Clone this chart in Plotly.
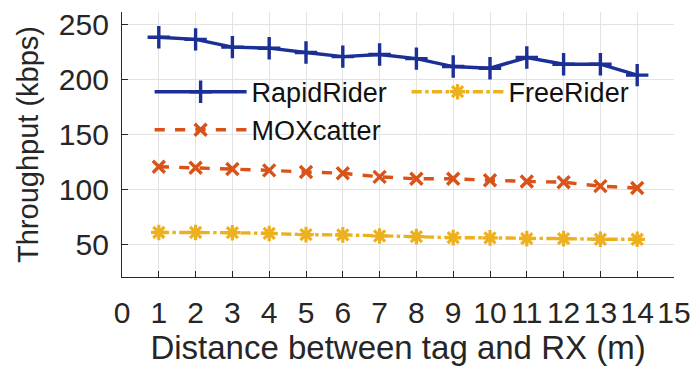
import plotly.graph_objects as go

# Distance (m) between tag and receiver
distance = list(range(1, 15))

# Measured throughput (kbps)
rapid_rider = [238.5, 236.5, 229.5, 228.5, 224.6, 220.8, 222.8, 219.0, 211.8, 210.3, 220.0, 213.9, 213.9, 204.0]
free_rider = [60.9, 60.9, 60.7, 60.0, 58.9, 58.7, 57.7, 57.1, 56.2, 56.0, 55.3, 55.3, 54.7, 54.7]
moxcatter = [120.7, 119.8, 118.6, 117.4, 115.9, 114.7, 111.5, 109.7, 109.7, 108.4, 107.3, 106.6, 103.0, 101.3]

x_ticks = list(range(0, 16))
y_ticks = [50, 100, 150, 200, 250]

BLUE = "#1b2f95"
ORANGE = "#d95319"
YELLOW = "#edb120"
AXIS = "#262626"
GRID = "#e3e3e3"
FONT = "Liberation Sans"

fig = go.Figure()

fig.add_trace(go.Scatter(
    x=distance, y=rapid_rider, name="RapidRider", mode="lines+markers",
    line=dict(color=BLUE, width=3.4),
    marker=dict(symbol="cross-thin", size=16, color=BLUE, line=dict(color=BLUE, width=3.4)),
))
fig.add_trace(go.Scatter(
    x=distance, y=free_rider, name="FreeRider", mode="lines+markers",
    line=dict(color=YELLOW, width=3.4, dash="dashdot"),
    marker=dict(symbol="asterisk", size=13, color=YELLOW, line=dict(color=YELLOW, width=3.2)),
))
fig.add_trace(go.Scatter(
    x=distance, y=moxcatter, name="MOXcatter", mode="lines+markers",
    line=dict(color=ORANGE, width=3.4, dash="dash"),
    marker=dict(symbol="x-thin", size=12, color=ORANGE, line=dict(color=ORANGE, width=3.4)),
))

axis_common = dict(
    showline=True, linecolor=AXIS, linewidth=1.3, mirror=False,
    ticks="inside", ticklen=6, tickwidth=1.3, tickcolor=AXIS,
    showgrid=True, gridcolor=GRID, gridwidth=1.2, zeroline=False,
    tickfont=dict(family=FONT, size=30, color=AXIS),
)

fig.update_xaxes(
    range=[0, 15], tickmode="array", tickvals=x_ticks,
    ticktext=[str(v) for v in x_ticks], ticklabelstandoff=9,
    title=dict(text="Distance between tag and RX (m)", font=dict(family=FONT, size=33, color=AXIS), standoff=7),
    **axis_common,
)
fig.update_yaxes(
    range=[20.4, 261.4], tickmode="array", tickvals=y_ticks,
    ticktext=[str(v) for v in y_ticks], ticklabelstandoff=6,
    title=dict(text="Throughput (kbps)", font=dict(family=FONT, size=29, color=AXIS), standoff=11),
    **axis_common,
)

fig.update_layout(
    width=699, height=375,
    margin=dict(l=122, r=17, t=8, b=98),
    paper_bgcolor="white", plot_bgcolor="white",
    font=dict(family=FONT, color=AXIS),
    legend=dict(
        orientation="h", x=0.05, y=0.79, xanchor="left", yanchor="top",
        bgcolor="rgba(0,0,0,0)", borderwidth=0,
        font=dict(family=FONT, size=27, color="#111111"),
        itemwidth=92, entrywidth=150, traceorder="normal",
    ),
)

fig.write_html("out.html")
